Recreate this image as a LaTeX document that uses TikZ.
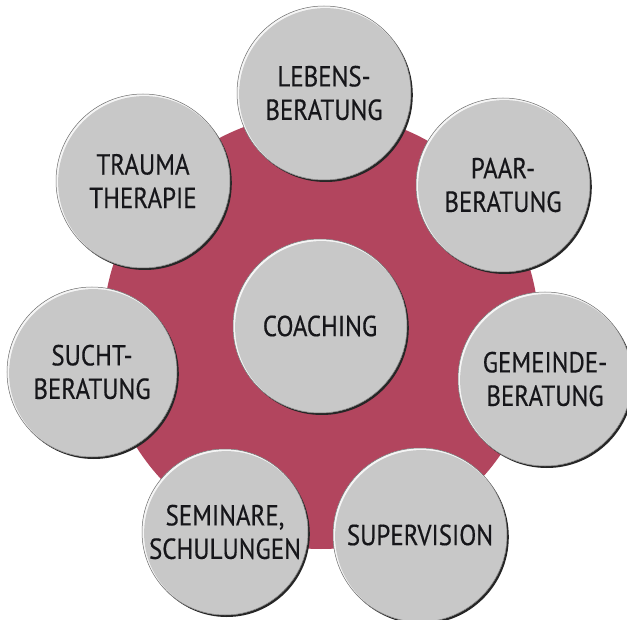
\documentclass[tikz,border=0pt]{standalone}
\usepackage{fontspec}
\newfontfamily\bubfont[FakeStretch=0.86,FakeBold=0.4]{PT Sans}
\definecolor{bgred}{RGB}{178,69,94}
\definecolor{bubgray}{RGB}{200,200,200}
\definecolor{txtdark}{RGB}{22,22,26}
\begin{document}
\begin{tikzpicture}[x=1pt,y=-1pt,
  bub/.style={circle, minimum size=#1, inner sep=0pt, align=center, text=txtdark,
    font=\bubfont\fontsize{29}{33.5}\selectfont,
    preaction={fill=black!85, transform canvas={shift={(1.8pt,-2pt)}}},
    fill=bubgray, draw=black!55, line width=0.5pt,
    path picture={
      \fill[white!92!gray] (path picture bounding box.center) circle[radius=0.5*#1];
      \fill[bubgray] ([shift={(1.3pt,-1.3pt)}]path picture bounding box.center) circle[radius=0.5*#1-0.8pt];
    }},
  bub/.default=174pt]
\fill[white] (0,0) rectangle (627,620);
\useasboundingbox (0,0) rectangle (627,620);
\node[circle, fill=bgred, minimum size=436pt, inner sep=0pt] (disc) at (321,331) {};
\node[bub] (coach) at (320,326) {COACHING};
\node[bub] (lebens) at (324,93) {LEBENS-\\BERATUNG};
\node[bub] (paar) at (503,185) {PAAR-\\BERATUNG};
\node[bub] (gemeinde) at (545,379) {GEMEINDE-\\BERATUNG};
\node[bub] (superv) at (420,535) {SUPERVISION};
\node[bub=166pt] (seminare) at (225,532) {SEMINARE,\\SCHULUNGEN};
\node[bub=170pt] (sucht) at (92,372) {SUCHT-\\BERATUNG};
\node[bub] (trauma) at (143,181) {TRAUMA\\THERAPIE};
\end{tikzpicture}
\end{document}
